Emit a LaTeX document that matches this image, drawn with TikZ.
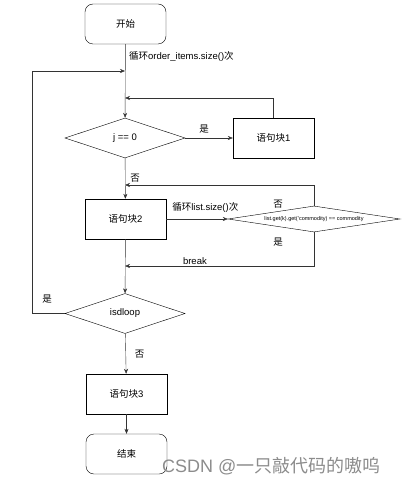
\documentclass[tikz,border=0pt]{standalone}
\usepackage{fontspec}
\setmainfont{Liberation Sans}
\newfontfamily\cjk{Noto Sans CJK SC}
\usetikzlibrary{shapes.geometric,arrows.meta}

\begin{document}
\begin{tikzpicture}[x=1pt, y=-1pt,
  every node/.style={font=\fontsize{9.5}{11}\selectfont, inner sep=1pt},
  terminal/.style={draw, rounded corners=8pt, minimum width=81pt, minimum height=40pt},
  block/.style={draw, minimum width=81pt, minimum height=40pt},
  decision/.style={draw, diamond, aspect=3, minimum width=120pt, minimum height=40pt, inner sep=0pt},
  arr/.style={-{Stealth[length=5pt,width=4pt]}, draw=black!80}]

\path[use as bounding box] (0,0) rectangle (410,486);

% Main column
\node[terminal] (start) at (125.5,24) {\cjk 开始};
\node[decision] (d1) at (125,138) {j == 0};
\node[block] (b1) at (273.5,138) {{\cjk 语句块}1};
\node[block] (b2) at (125.5,219) {{\cjk 语句块}2};
\node[decision, minimum width=172pt, minimum height=26pt, aspect=6.6,
      font=\fontsize{5.5}{6}\selectfont] (d2) at (314,219) {list.get(k).get('commodity) == commodity};
\node[decision] (d3) at (125,313.5) {isdloop};
\node[block] (b3) at (126.5,394) {{\cjk 语句块}3};
\node[terminal] (stop) at (126.5,454) {\cjk 结束};

% Junctions on the main line
\coordinate (j1) at (125,71);
\coordinate (j2) at (125,98);
\coordinate (j3) at (125,185);
\coordinate (j4) at (125,266);

% Edges
\draw[arr] (start) -- (d1);
\draw[arr] (d1) -- (b1) node[pos=0.4, above=4pt] {\cjk 是};
\draw[arr] (b1.north) |- (j2);
\draw[arr] (d1) -- (b2) node[midway, right=4pt] {\cjk 否};
\draw[arr] (b2) -- (d2) node[pos=0.08, anchor=south west, yshift=5pt] {{\cjk 循环}list.size(){\cjk 次}};
\draw[arr] (d2.north) |- (j3) node[pos=0.25, below=3pt, xshift=-36pt] {\cjk 否};
\draw[arr] (d2.south) |- (j4) node[pos=0.25, above=2pt, xshift=-36pt] {\cjk 是} node[pos=0.815, above] {break};
\draw[arr] (b2) -- (d3);
\draw[arr] (d3.west) -- ++(-33,0) |- (j1);
\node at (47,299) {\cjk 是};
\draw[arr] (d3) -- (b3) node[midway, right=8pt] {\cjk 否};
\draw[arr] (b3) -- (stop);
\node[anchor=west] at (128,56) {{\cjk 循环}order\_items.size(){\cjk 次}};

% Watermark
\node[anchor=west, text=black!45, font=\fontsize{18}{20}\selectfont] (mark) at (161,466) {CSDN @{\cjk 一只敲代码的嗷呜}};
\end{tikzpicture}
\end{document}
